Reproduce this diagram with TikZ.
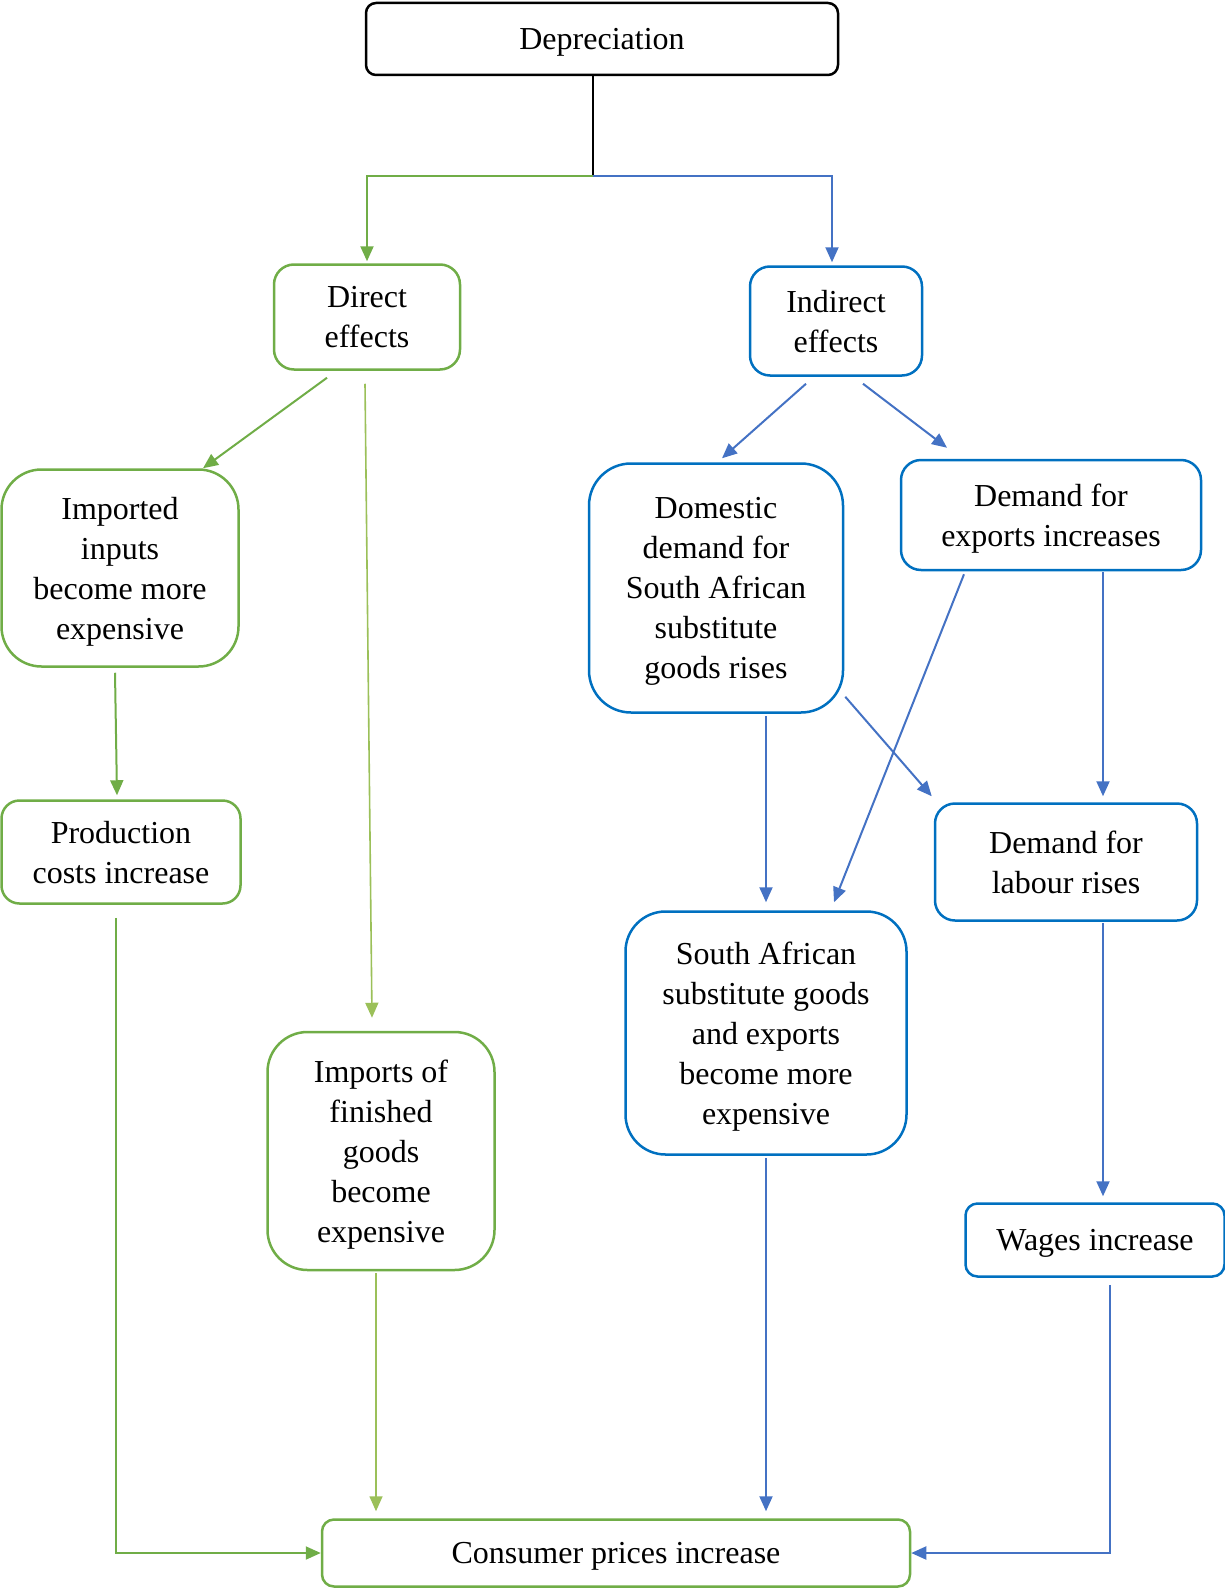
\documentclass[tikz,border=0pt]{standalone}
\usepackage{fontspec}
\setmainfont{Liberation Serif}
\usetikzlibrary{arrows.meta}
\definecolor{boxgreen}{HTML}{70AD47}
\definecolor{boxblue}{HTML}{0070C0}
\definecolor{arrblue}{HTML}{4472C4}
\definecolor{arrlight}{HTML}{9BC059}
\tikzset{
  box/.style = {draw, rounded corners=#1, line width=2.5pt, align=center,
                inner sep=0pt, text depth=-5pt, font=\fontsize{32}{40}\selectfont},
  box/.default = 18pt,
  flow/.style = {line width=2pt, -{Triangle[length=15pt,width=13pt]}}
}

\begin{document}
\begin{tikzpicture}[x=1pt, y=-1pt]
	\useasboundingbox (0,0) rectangle (1225,1592);
	
	% Boxes
	\node[box=10pt, draw=black, minimum width=472pt, minimum height=72pt] (deprec) at (602,39) {Depreciation};
	\node[box=20pt, draw=boxgreen, minimum width=186pt, minimum height=105pt] (direct) at (367,317) {Direct\\effects};
	\node[box=20pt, draw=boxblue, minimum width=172pt, minimum height=109pt] (indirect) at (836,321) {Indirect\\effects};
	\node[box=40pt, draw=boxgreen, minimum width=237pt, minimum height=197pt] (imported) at (120,568) {Imported\\inputs\\become more\\expensive};
	\node[box=18pt, draw=boxgreen, minimum width=239pt, minimum height=103pt] (production) at (121,852) {Production\\costs increase};
	\node[box=40pt, draw=boxgreen, minimum width=227pt, minimum height=238pt] (finished) at (381,1151) {Imports of\\finished\\goods\\become\\expensive};
	\node[box=42pt, draw=boxblue, minimum width=254pt, minimum height=249pt] (domestic) at (716,588) {Domestic\\demand for\\South African\\substitute\\goods rises};
	\node[box=20pt, draw=boxblue, minimum width=300pt, minimum height=110pt] (exports) at (1051,515) {Demand for\\exports increases};
	\node[box=20pt, draw=boxblue, minimum width=262pt, minimum height=117pt] (labour) at (1066,862) {Demand for\\labour rises};
	\node[box=40pt, draw=boxblue, minimum width=281pt, minimum height=243pt] (subst) at (766,1033) {South African\\substitute goods\\and exports\\become more\\expensive};
	\node[box=12pt, draw=boxblue, minimum width=259pt, minimum height=73pt] (wages) at (1095,1240) {Wages increase};
	\node[box=12pt, draw=boxgreen, minimum width=588pt, minimum height=67pt] (consumer) at (616,1553) {Consumer prices increase};
	
	% Split below depreciation
	\coordinate (split) at (593,176);
	\draw[black, line width=2.5pt] ([xshift=-9pt]deprec.south) -- (split);
	\draw[flow, boxgreen] (split) -| ([yshift=2pt]direct.north);
	\draw[flow, arrblue] (split) -| ([xshift=-4pt,yshift=3pt]indirect.north);
	
	% Direct effects
	\draw[flow, boxgreen] ([xshift=-40pt,yshift=-7pt]direct.south) -- ([xshift=83pt]imported.north);
	\draw[flow, arrlight, line width=1.6pt] ([xshift=-2pt,yshift=-13pt]direct.south) -- ([xshift=-9pt,yshift=13pt]finished.north);
	\draw[flow, boxgreen] ([xshift=-5pt,yshift=-5pt]imported.south) -- ([xshift=-4pt,yshift=4pt]production.north);
	\draw[flow, boxgreen] ([xshift=-5pt,yshift=-13pt]production.south) |- (consumer.west);
	\draw[flow, arrlight, line width=1.6pt] ([xshift=-5pt,yshift=-2pt]finished.south) -- ([xshift=-240pt,yshift=7pt]consumer.north);
	
	% Indirect effects
	\draw[flow, arrblue] ([xshift=-30pt,yshift=-7pt]indirect.south) -- ([xshift=6pt,yshift=4pt]domestic.north);
	\draw[flow, arrblue] ([xshift=27pt,yshift=-7pt]indirect.south) -- ([xshift=-104pt,yshift=11pt]exports.north);
	\draw[flow, arrblue] ([xshift=50pt,yshift=-2pt]domestic.south) -- ([yshift=8pt]subst.north);
	\draw[flow, arrblue] ([xshift=1pt,yshift=17pt]domestic.south east) -- ([xshift=-2pt,yshift=6pt]labour.north west);
	\draw[flow, arrblue] ([xshift=-87pt,yshift=-3pt]exports.south) -- ([xshift=68pt,yshift=8pt]subst.north);
	\draw[flow, arrblue] ([xshift=52pt,yshift=-1pt]exports.south) -- ([xshift=37pt,yshift=6pt]labour.north);
	\draw[flow, arrblue] ([xshift=37pt,yshift=-1pt]labour.south) -- ([xshift=8pt,yshift=6pt]wages.north);
	\draw[flow, arrblue] ([yshift=-2pt]subst.south) -- ([xshift=150pt,yshift=7pt]consumer.north);
	\draw[flow, arrblue] ([xshift=15pt,yshift=-7pt]wages.south) |- (consumer.east);
	
\end{tikzpicture}
\end{document}
